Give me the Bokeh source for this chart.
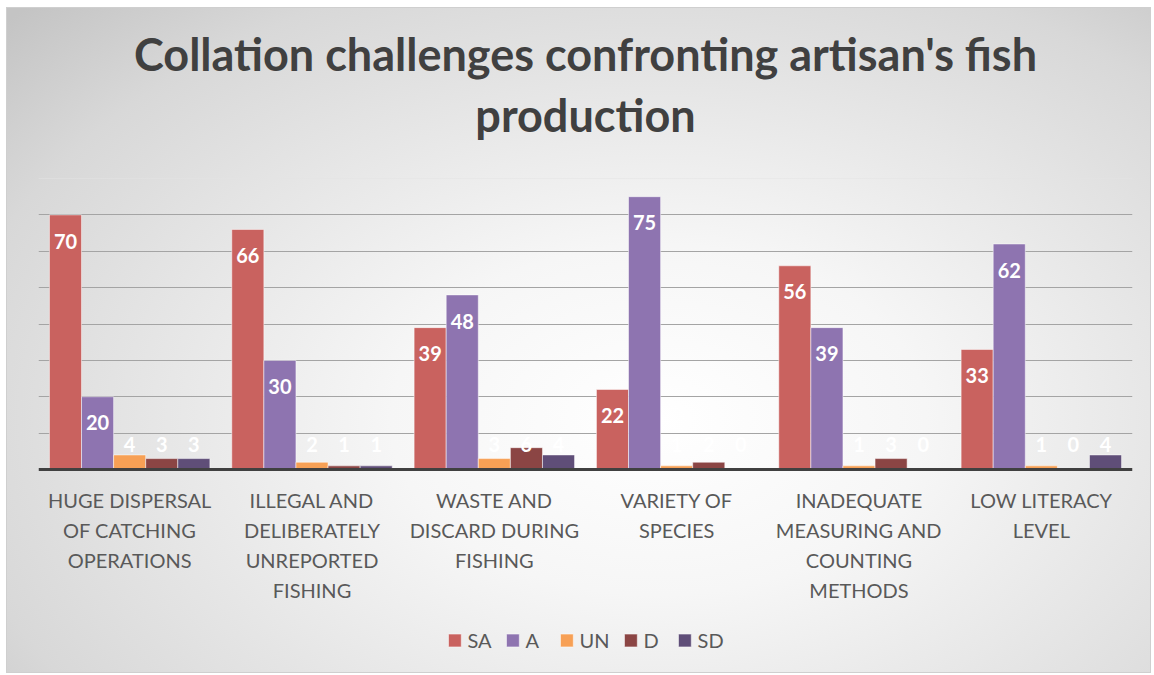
from bokeh.plotting import figure
from bokeh.models import ColumnDataSource, Legend, LegendItem, FixedTicker, Span, Range1d, FactorRange, Title
from bokeh.transform import dodge
from bokeh.core.properties import value
from bokeh.embed import file_html
from bokeh.resources import INLINE

categories = [
    "HUGE DISPERSAL\nOF CATCHING\nOPERATIONS",
    "ILLEGAL AND\nDELIBERATELY\nUNREPORTED\nFISHING",
    "WASTE AND\nDISCARD DURING\nFISHING",
    "VARIETY OF\nSPECIES",
    "INADEQUATE\nMEASURING AND\nCOUNTING\nMETHODS",
    "LOW LITERACY\nLEVEL",
]
series = ["SA", "A", "UN", "D", "SD"]
sa = [70, 66, 39, 22, 56, 33]
a = [20, 30, 48, 75, 39, 62]
un = [4, 2, 3, 1, 1, 1]
d = [3, 1, 6, 2, 3, 0]
sd = [3, 1, 4, 0, 0, 4]
colors = ["#c9625f", "#8e74b0", "#f7a055", "#8b4544", "#5f4e78"]
values_by_series = [sa, a, un, d, sd]

title_line1 = "Collation challenges confronting artisan's fish"
title_line2 = "production"
FONT = "Lato"

y_max = 80
# the plot frame continues below zero to hold category labels and legend
bars_px, below_px = 291, 203
y_min = -y_max * below_px / bars_px

p = figure(
    x_range=FactorRange(*categories, range_padding=0),
    y_range=Range1d(y_min, y_max),
    frame_width=1094, frame_height=bars_px + below_px,
    output_backend="svg", toolbar_location=None,
    min_border_left=31, min_border_right=18, min_border_top=170, min_border_bottom=0,
)
p.styles = {
    "margin-left": "7px", "margin-top": "8px",
    "background": "radial-gradient(ellipse 78% 88% at 57% 62%, #ffffff 0%, #f6f6f6 30%, #d8d8d8 80%, #c4c4c4 100%)",
    "outline": "1px solid #cfcfcf",
}
p.background_fill_color = None
p.border_fill_color = None
p.outline_line_color = None

tstyle = dict(align="center", text_font=FONT, text_font_size="45px",
              text_font_style="bold", text_color="#404040")
p.title.text = title_line1
for k, v in tstyle.items():
    setattr(p.title, k, v)
p.title.standoff = 9
# spacer between the title and the plot area (closest to the frame)
p.add_layout(Title(text=" ", text_font_size="8px", standoff=26), "above")
p.add_layout(Title(text=title_line2, standoff=0, **tstyle), "above")

n = len(series)
bw = 0.176
offsets = [(i - (n - 1) / 2) * bw for i in range(n)]

items = []
for s, vals, col, off in zip(series, values_by_series, colors, offsets):
    lab_y = [max(v - 7.2, 6.9) for v in vals]
    src = ColumnDataSource(dict(cat=categories, v=vals, ly=lab_y, txt=[str(int(round(v))) for v in vals]))
    r = p.vbar(x=dodge("cat", off, range=p.x_range), top="v", width=bw, source=src,
               fill_color=col, line_color="white", line_alpha=0.5, line_width=1)
    p.text(x=dodge("cat", off, range=p.x_range), y="ly", text="txt", source=src,
           text_color="white", text_font=value(FONT), text_font_style="bold",
           text_font_size="20px", text_align="center", text_baseline="middle")
    items.append(LegendItem(label=s, renderers=[r]))

p.add_layout(Span(location=y_max, dimension="width", line_color="#e4e4e4", line_width=1))

p.xaxis.visible = False
p.yaxis.visible = False
p.xgrid.grid_line_color = None
p.ygrid.ticker = FixedTicker(ticks=[10, 20, 30, 40, 50, 60, 70])
p.ygrid.grid_line_color = "#a4a4a4"
p.ygrid.grid_line_width = 1

# category axis: baseline and labels
p.add_layout(Span(location=0, dimension="width", line_color="#404040", line_width=3))
cat_src = ColumnDataSource(dict(cat=categories, y=[0] * len(categories)))
p.text(x="cat", y="y", text="cat", source=cat_src, y_offset=18,
       text_font=value(FONT), text_font_size="20px", text_color="#595959",
       text_align="center", text_baseline="top", text_line_height=1.25)

legend = Legend(items=items, orientation="horizontal", location="bottom_center",
                label_text_font=FONT, label_text_font_size="20px", label_text_color="#595959",
                glyph_width=16, glyph_height=16, spacing=13, label_standoff=5,
                padding=6, background_fill_alpha=0, border_line_alpha=0, margin=14)
p.add_layout(legend)

open("out.html", "w").write(file_html(p, INLINE))
